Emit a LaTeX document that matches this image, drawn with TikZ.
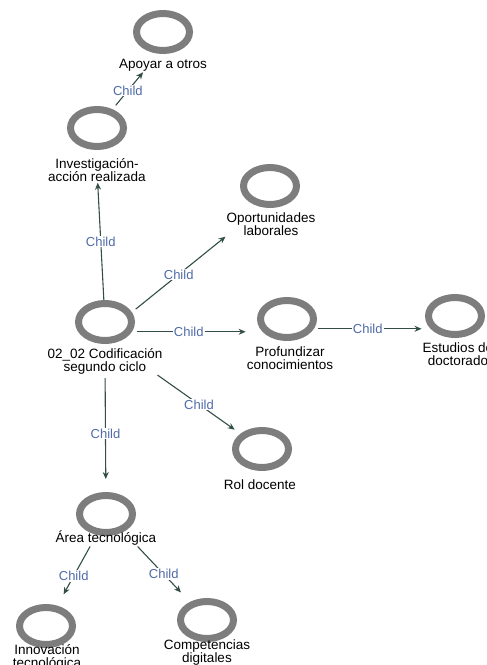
\documentclass[tikz,border=0pt]{standalone}
\usepackage{fontspec}
\setmainfont{Liberation Sans}
\usepackage{xcolor}
\usepackage{tikz}
\usetikzlibrary{shapes}
\usetikzlibrary{arrows.meta}
\definecolor{ringgray}{RGB}{125,125,125}
\definecolor{linkgreen}{RGB}{50,78,70}
\definecolor{childblue}{RGB}{80,108,168}
\tikzset{
  main node/.style={ellipse,draw=ringgray,line width=7pt,minimum width=53pt,minimum height=37pt,inner sep=0pt},
  text node/.style={align=center,inner sep=1pt,font=\fontsize{13.5}{13}\selectfont},
  link/.style={draw=linkgreen,line width=1.1pt},
  child label/.style={fill=white,text=childblue,inner sep=1pt,font=\fontsize{13}{13}\selectfont}
}

\begin{document}
\begin{tikzpicture}[->,>={Stealth[length=7pt,width=6pt]},x=1pt,y=-1pt]
  \useasboundingbox (0,0) rectangle (487,665);
  % codes
  \node [main node] (apo) at (163,32) {};
  \node [text node] (apo-t) at (163,65) {Apoyar a otros};
  \node [main node] (inv) at (97,128) {};
  \node [text node] (inv-t) at (97,170) {Investigación-\\acción realizada};
  \node [main node] (opo) at (270,186) {};
  \node [text node] (opo-t) at (271,224) {Oportunidades\\laborales};
  \node [main node] (cod) at (105,322) {};
  \node [text node] (cod-t) at (105,361) {02\_02 Codificación\\segundo ciclo};
  \node [main node] (prof) at (287,319) {};
  \node [text node] (prof-t) at (290,358) {Profundizar\\conocimientos};
  \node [main node] (est) at (455,316) {};
  \node [text node] (est-t) at (458,354) {Estudios de\\doctorado};
  \node [main node] (rol) at (262,449) {};
  \node [text node] (rol-t) at (260,485) {Rol docente};
  \node [main node] (area) at (106,514) {};
  \node [text node] (area-t) at (106,538) {Área tecnológica};
  \node [main node] (inn) at (46,626) {};
  \node [text node] (inn-t) at (47,657) {Innovación\\tecnológica};
  \node [main node] (comp) at (207,620) {};
  \node [text node] (comp-t) at (207,653) {Competencias\\digitales};
  % links
  \draw [link,shorten <=5pt] (inv) -- node [child label] {Child} (apo-t.200);
  \draw [link] (cod) -- node [child label] {Child} (inv-t);
  \draw [link,shorten <=5pt] (cod.20) -- node [child label] {Child} (opo-t.south west);
  \draw [link,shorten <=5pt] (cod.-20) -- node [child label] {Child} (cod.-20 -| prof-t.west);
  \draw [link,shorten <=4pt] (prof.-20) -- node [child label] {Child} (prof.-20 -| est-t.west);
  \draw [link,shorten >=7pt] (cod-t.-15) -- node [child label] {Child} (rol);
  \draw [link,shorten <=3pt,shorten >=13pt] (cod-t) -- node [child label] {Child} (area);
  \draw [link,shorten >=13pt] (area-t.208) -- node [child label] {Child} (inn);
  \draw [link,shorten >=13pt] (area-t.-15) -- node [child label] {Child} (comp);
\end{tikzpicture}
\end{document}
